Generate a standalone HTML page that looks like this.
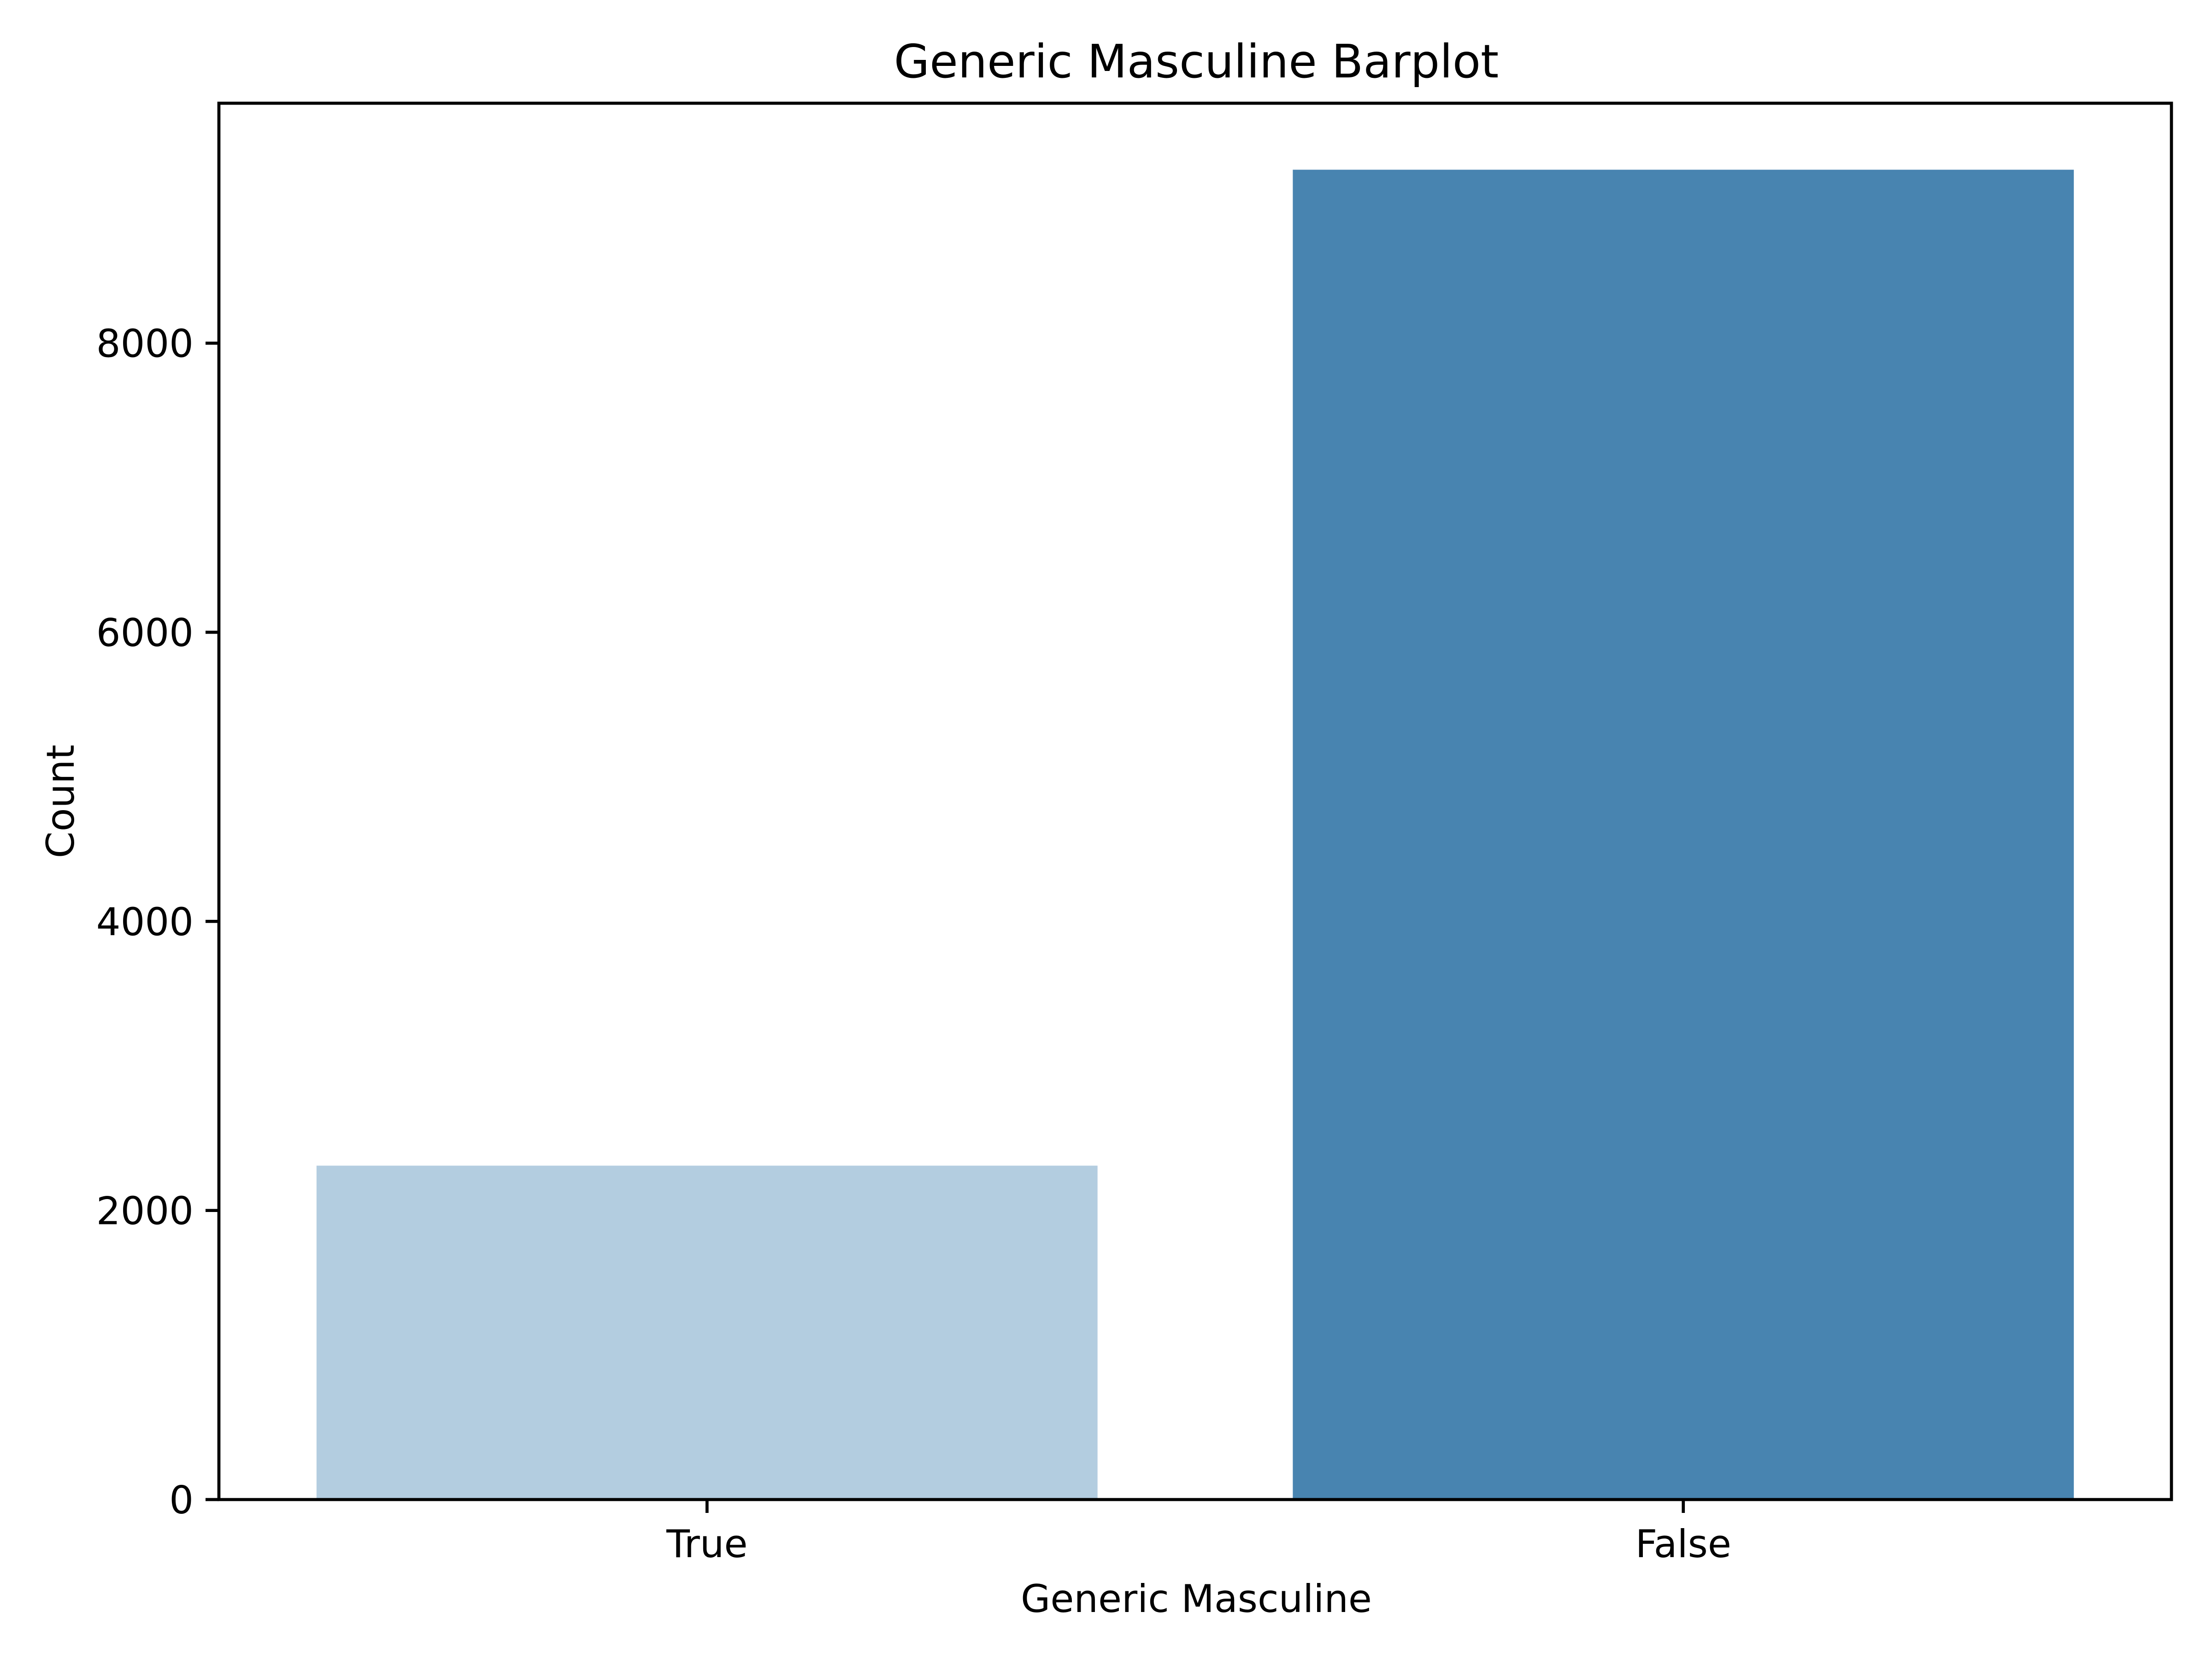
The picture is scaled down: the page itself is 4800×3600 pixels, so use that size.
<!DOCTYPE html>
<html><head><meta charset="utf-8"><style>html,body{margin:0;padding:0;background:#fff}svg{display:block}text{font-family:"DejaVu Sans","Liberation Sans",sans-serif;fill:#000}</style></head>
<body>
<svg id="chart" width="4800" height="3600" viewBox="0 0 4800 3600" xmlns="http://www.w3.org/2000/svg">
<rect width="4800" height="3600" fill="#fff"/>
<text x="2596" y="168" font-size="100" text-anchor="middle">Generic Masculine Barplot</text>
<text x="2596" y="3498" font-size="83" text-anchor="middle">Generic Masculine</text>
<text transform="translate(160,1739) rotate(-90)" font-size="83" text-anchor="middle">Count</text>
<g id="plot"></g>
</svg>
<script>
const categories = ["True", "False"];
const counts = [2310, 9200];
const colors = ["#b3cde0", "#4884b0"];
const yTicks = [0, 2000, 4000, 6000, 8000];

const L = 475, R = 4712, T = 224, B = 3254;
const yMax = Math.max(...counts) * 1.05;
const y = v => B - (v / yMax) * (B - T);
const band = (R - L) / categories.length;
const x = i => L + band * (i + 0.5);
const ns = "http://www.w3.org/2000/svg";
const g = document.getElementById("plot");
function mk(tag, attrs) { const e = document.createElementNS(ns, tag); for (const k in attrs) e.setAttribute(k, attrs[k]); g.appendChild(e); return e; }

counts.forEach((v, i) => {
  const w = band * 0.8;
  const r = mk("rect", {x: x(i) - w / 2, y: y(v), width: w, height: B - y(v), fill: colors[i]});
  
  
  const t = mk("line", {x1: x(i), x2: x(i), y1: B, y2: B + 29, stroke: "#000", "stroke-width": 6.7});
  
  
  const lb = mk("text", {x: x(i), y: B + 125, "font-size": 83, "text-anchor": "middle"});
  lb.textContent = categories[i];
  
  
});
yTicks.forEach(v => {
  const t = mk("line", {x1: L - 29, x2: L, y1: y(v), y2: y(v), stroke: "#000", "stroke-width": 6.7});
  
  
  const lb = mk("text", {x: L - 55, y: y(v) + 30, "font-size": 83, "text-anchor": "end"});
  lb.textContent = v;
  
  
});
const frame = mk("rect", {x: L, y: T, width: R - L, height: B - T, fill: "none", stroke: "#000", "stroke-width": 6.7});


</script>
</body></html>
